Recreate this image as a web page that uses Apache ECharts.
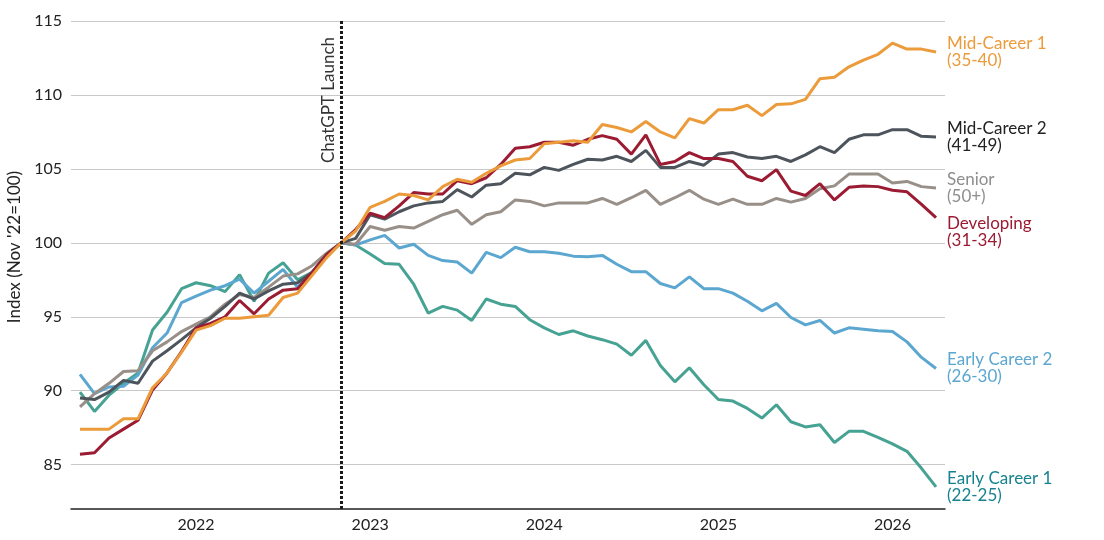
<!DOCTYPE html>
<html lang="en">
<head>
	<meta charset="UTF-8">
	<title>Employment index by career stage</title>
	<style>
		html,body{margin:0px;padding:0px;background:#fff;}
		#chart{width:1104px;height:540px;}
	</style>
</head>
<body>
	<div id="chart"></div>
	<script src="https://cdn.jsdelivr.net/npm/echarts@6/dist/echarts.min.js"></script>
	<script type="text/javascript">
	// monthly points, May 2021 .. Apr 2026 (index 0 = May 2021)
	var launchIndex = 18; // Nov 2022
	var yearTicks = [8, 20, 32, 44, 56];
	var yearLabels = ['2022', '2023', '2024', '2025', '2026'];
	var yTicks = [85, 90, 95, 100, 105, 110, 115];

	var midCareer1 = [87.4,87.4,87.4,88.1,88.1,90.2,91.2,92.6,94.1,94.4,94.9,94.9,95.0,95.1,96.3,96.6,97.8,99.0,100,
		100.8,102.4,102.8,103.3,103.2,102.9,103.8,104.3,104.1,104.7,105.2,105.6,105.7,106.7,106.8,106.9,106.8,108.0,107.8,107.5,108.2,
		107.5,107.1,108.4,108.1,109.0,109.0,109.3,108.6,109.35,109.4,109.7,111.1,111.2,111.9,112.35,112.75,113.5,113.1,113.1,112.9];
	var midCareer2 = [89.5,89.4,89.9,90.7,90.5,92.0,92.7,93.45,94.25,94.9,95.7,96.6,96.2,96.75,97.2,97.3,98.0,99.2,100,
		100.3,101.9,101.6,102.1,102.5,102.7,102.8,103.6,103.1,103.9,104.0,104.7,104.6,105.1,104.9,105.3,105.65,105.6,105.85,105.5,106.25,
		105.1,105.1,105.5,105.25,106.0,106.1,105.8,105.7,105.85,105.5,105.95,106.5,106.1,107.0,107.3,107.3,107.65,107.65,107.2,107.15];
	var senior = [88.9,89.8,90.5,91.3,91.35,92.7,93.3,94.0,94.5,95.0,95.85,96.5,96.3,97.0,97.75,97.9,98.45,99.3,100,
		99.9,101.1,100.85,101.1,101.0,101.45,101.9,102.2,101.25,101.9,102.1,102.9,102.8,102.5,102.7,102.7,102.7,103.0,102.6,103.05,103.55,
		102.6,103.05,103.55,102.95,102.6,102.95,102.6,102.6,103.0,102.75,103.0,103.65,103.85,104.65,104.65,104.65,104.05,104.15,103.8,103.7];
	var developing = [85.7,85.8,86.8,87.4,88.0,90.05,91.2,92.65,94.25,94.55,95.0,96.1,95.2,96.2,96.8,96.9,98.0,99.2,100,
		100.9,102.0,101.7,102.5,103.4,103.3,103.3,104.2,104.0,104.4,105.3,106.4,106.5,106.8,106.8,106.6,107.0,107.25,107.0,106.0,107.3,
		105.3,105.5,106.1,105.7,105.7,105.5,104.5,104.2,104.95,103.5,103.2,104.0,102.9,103.75,103.85,103.8,103.55,103.45,102.6,101.7];
	var earlyCareer2 = [91.1,89.8,90.25,90.3,91.05,92.9,93.9,95.95,96.4,96.8,97.1,97.55,96.6,97.4,98.2,97.0,98.0,99.2,100,
		99.85,100.2,100.5,99.65,99.9,99.15,98.8,98.7,97.95,99.35,99.0,99.7,99.4,99.4,99.3,99.1,99.05,99.15,98.55,98.05,98.05,
		97.25,96.95,97.7,96.9,96.9,96.6,96.05,95.4,95.9,94.95,94.45,94.75,93.9,94.25,94.15,94.05,94.0,93.3,92.25,91.5];
	var earlyCareer1 = [89.9,88.6,89.7,90.5,91.2,94.1,95.3,96.9,97.3,97.1,96.7,97.85,96.05,97.95,98.65,97.5,98.0,99.2,100,
		99.85,99.25,98.6,98.55,97.2,95.25,95.7,95.45,94.75,96.2,95.85,95.7,94.8,94.25,93.8,94.05,93.7,93.45,93.15,92.4,93.4,
		91.7,90.6,91.55,90.4,89.4,89.3,88.8,88.15,89.05,87.9,87.55,87.7,86.5,87.25,87.25,86.85,86.4,85.9,84.75,83.5];

	var FONT = 'Lato';

	function pts(arr){
		return arr.map(function(v, i){ return [i, v]; });
	}

	function makeSeries(name, label, arr, color, textColor, offsetY){
		return {
			name: name,
			type: 'line',
			data: pts(arr),
			symbol: 'none',
			lineStyle: { color: color, width: 3 },
			itemStyle: { color: color },
			emphasis: { disabled: true },
			endLabel: {
				show: true,
				formatter: name + '\n' + label,
				color: textColor,
				fontFamily: FONT,
				fontSize: 17,
				lineHeight: 17,
				distance: 11,
				offset: [0, offsetY || 0]
			}
		};
	}

	var series = [
		makeSeries('Early Career 1', '(22-25)', earlyCareer1, '#46A293', '#17838F'),
		makeSeries('Early Career 2', '(26-30)', earlyCareer2, '#5BA7D0', '#5BA7D0'),
		makeSeries('Senior', '(50+)', senior, '#988F88', '#8E8E8E'),
		makeSeries('Mid-Career 2', '(41-49)', midCareer2, '#4D545C', '#222222'),
		makeSeries('Developing', '(31-34)', developing, '#9A1B32', '#9A1B32', 14),
		makeSeries('Mid-Career 1', '(35-40)', midCareer1, '#EC9B3B', '#EC9B3B')
	];

	series[0].markLine = {
		silent: true,
		symbol: 'none',
		lineStyle: { color: '#1a1a1a', width: 3, type: [3, 2] },
		label: {
			show: true,
			position: 'insideEndTop',
			formatter: 'ChatGPT Launch',
			color: '#333',
			fontFamily: FONT,
			fontSize: 17,
			distance: 4,
			padding: [0, 12, 0, 0]
		},
		data: [{ xAxis: launchIndex }]
	};

	var option = {
		animation: false,
		grid: { left: 71, right: 159, top: 21, bottom: 31 },
		graphic: [{
			type: 'text',
			x: 15,
			y: 247,
			rotation: Math.PI / 2,
			style: {
				text: "Index (Nov '22=100)",
				fill: '#222',
				font: '17px ' + FONT,
				align: 'center',
				verticalAlign: 'middle'
			}
		}],
		xAxis: {
			type: 'value',
			min: -0.62,
			max: 59.62,
			axisLine: { show: true, lineStyle: { color: '#222', width: 1.5 } },
			axisTick: { show: false, customValues: yearTicks },
			splitLine: { show: false },
			axisLabel: {
				customValues: yearTicks,
				formatter: function(v){ return yearLabels[yearTicks.indexOf(v)]; },
				color: '#222',
				fontFamily: FONT,
				fontSize: 16,
				margin: 8
			}
		},
		yAxis: {
			type: 'value',
			min: 82,
			max: 115,
			axisLine: { show: false },
			axisTick: { show: false, customValues: yTicks },
			splitLine: { show: true, lineStyle: { color: '#c8c8c8', width: 1 } },
			axisLabel: {
				customValues: yTicks,
				color: '#222',
				fontFamily: FONT,
				fontSize: 16,
				margin: 9
			}
		},
		series: series
	};

	var myChart = echarts.init(document.getElementById('chart'));
	myChart.setOption(option);
	</script>
</body>
</html>
